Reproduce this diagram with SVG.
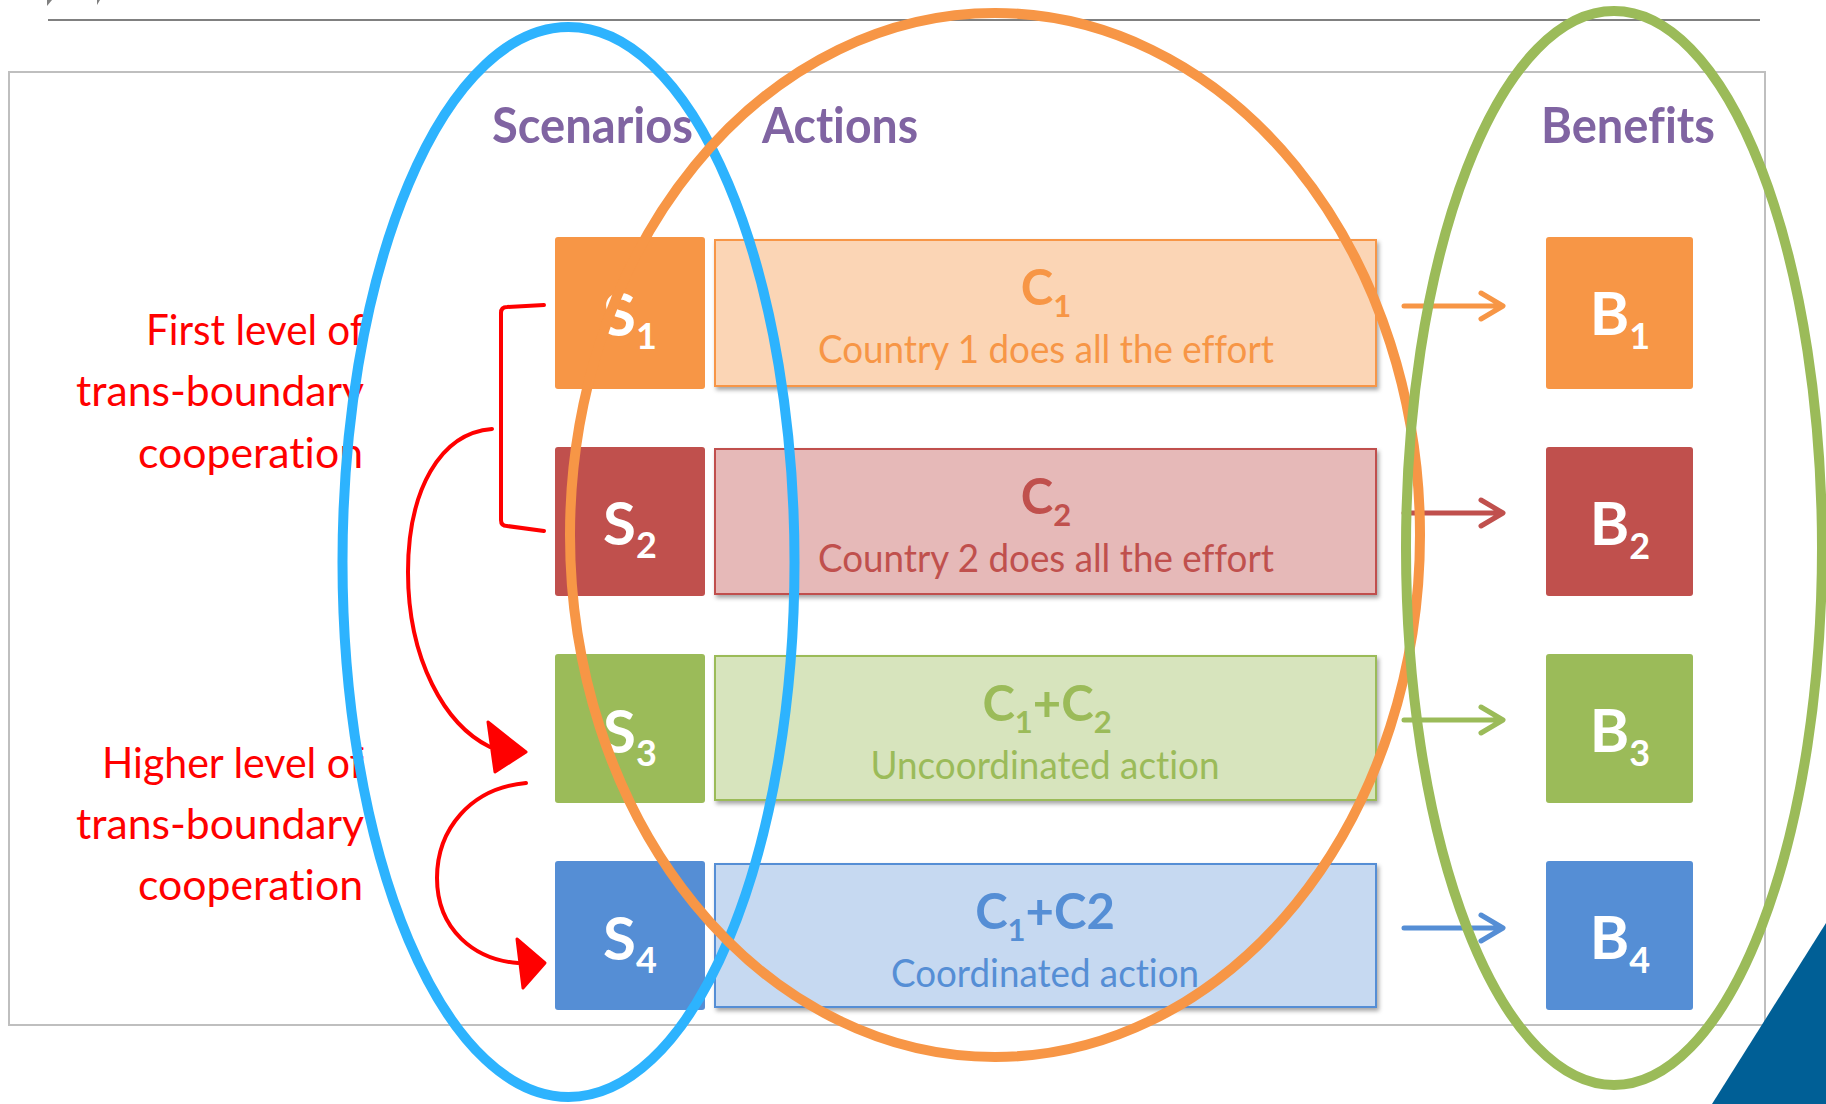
<svg xmlns="http://www.w3.org/2000/svg" width="1826" height="1104" viewBox="0 0 1826 1104">
  <defs>
    <filter id="shadow" x="-5%" y="-10%" width="112%" height="130%">
      <feDropShadow dx="2" dy="3" stdDeviation="2" flood-color="#000" flood-opacity="0.35"/>
    </filter>
  </defs>
  <style>
    text { font-family: Lato, "Liberation Sans", sans-serif; font-variant-ligatures: none; font-feature-settings: "liga" 0, "dlig" 0; }
    .head { font-size: 50px; font-weight: bold; fill: #8064A2; }
    .lbl { font-size: 60px; font-weight: bold; fill: #FFFFFF; text-anchor: middle; }
    .sub { font-size: 36px; }
    .ctitle { font-size: 49px; font-weight: bold; text-anchor: middle; }
    .csub { font-size: 31px; }
    .cdesc { font-size: 38px; text-anchor: middle; }
    .side { font-size: 42px; fill: #FF0000; text-anchor: end; }
    .sq { rx: 3; ry: 3; }
    .cbox { stroke-width: 2; filter: url(#shadow); }
    .arrow { fill: none; stroke-width: 5; stroke-linecap: round; stroke-linejoin: round; }
    .red { fill: none; stroke: #FF0000; stroke-width: 4; stroke-linecap: round; stroke-linejoin: round; }
    .head-red { fill: #FF0000; stroke: #FF0000; stroke-width: 3; stroke-linejoin: round; }
    .ring { fill: none; stroke-width: 10; }
    .orange { fill: #F79646; } .redc { fill: #C0504D; } .green { fill: #9BBB59; } .blue { fill: #558ED5; }
  </style>

  <rect width="1826" height="1104" fill="#FFFFFF"/>

  <!-- header rule and clipped title tails -->
  <g id="header">
    <line x1="48" y1="20" x2="1760" y2="20" stroke="#808080" stroke-width="2"/>
    <polygon points="47,0 52,0 47,6" fill="#808080"/>
    <polygon points="97,0 100,0 97,5" fill="#808080"/>
  </g>

  <!-- content frame -->
  <rect id="frame" x="9" y="72" width="1756" height="953" fill="none" stroke="#BFBFBF" stroke-width="2"/>

  <!-- column headings -->
  <g id="headings">
    <text class="head" x="492" y="143" textLength="201" lengthAdjust="spacingAndGlyphs">Scenarios</text>
    <text class="head" x="762" y="143" textLength="156" lengthAdjust="spacingAndGlyphs">Actions</text>
    <text class="head" x="1541" y="143" textLength="174" lengthAdjust="spacingAndGlyphs">Benefits</text>
  </g>

  <!-- side labels -->
  <g id="label-first">
    <text class="side" x="364" y="345" textLength="218" lengthAdjust="spacingAndGlyphs">First level of</text>
    <text class="side" x="364" y="406" textLength="288" lengthAdjust="spacingAndGlyphs">trans-boundary</text>
    <text class="side" x="363" y="468" textLength="225" lengthAdjust="spacingAndGlyphs">cooperation</text>
  </g>
  <g id="label-higher">
    <text class="side" x="364" y="778" textLength="262" lengthAdjust="spacingAndGlyphs">Higher level of</text>
    <text class="side" x="364" y="839" textLength="288" lengthAdjust="spacingAndGlyphs">trans-boundary</text>
    <text class="side" x="363" y="900" textLength="225" lengthAdjust="spacingAndGlyphs">cooperation</text>
  </g>

  <!-- scenario squares -->
  <g id="S1"><rect class="sq orange" x="555" y="237" width="150" height="152"/>
    <text class="lbl" x="630" y="336">S<tspan class="sub" dy="13">1</tspan></text></g>
  <g id="S2"><rect class="sq redc" x="555" y="447" width="150" height="149"/>
    <text class="lbl" x="630" y="545">S<tspan class="sub" dy="13">2</tspan></text></g>
  <g id="S3"><rect class="sq green" x="555" y="654" width="150" height="149"/>
    <text class="lbl" x="630" y="753">S<tspan class="sub" dy="13">3</tspan></text></g>
  <g id="S4"><rect class="sq blue" x="555" y="861" width="150" height="149"/>
    <text class="lbl" x="630" y="960">S<tspan class="sub" dy="13">4</tspan></text></g>

  <!-- action bars -->
  <g id="C1">
    <rect class="cbox" x="715" y="240" width="661" height="146" fill="#FBD5B5" stroke="#F79646"/>
    <text class="ctitle" x="1046" y="305" fill="#F79646">C<tspan class="csub" dy="12">1</tspan></text>
    <text class="cdesc" x="1046" y="363" fill="#F79646" textLength="456" lengthAdjust="spacingAndGlyphs">Country 1 does all the effort</text>
  </g>
  <g id="C2">
    <rect class="cbox" x="715" y="449" width="661" height="145" fill="#E6B9B8" stroke="#C0504D"/>
    <text class="ctitle" x="1046" y="514" fill="#C0504D">C<tspan class="csub" dy="12">2</tspan></text>
    <text class="cdesc" x="1046" y="572" fill="#C0504D" textLength="456" lengthAdjust="spacingAndGlyphs">Country 2 does all the effort</text>
  </g>
  <g id="C3">
    <rect class="cbox" x="715" y="656" width="661" height="144" fill="#D7E4BD" stroke="#9BBB59"/>
    <text class="ctitle" x="1047" y="721" fill="#9BBB59">C<tspan class="csub" dy="12">1</tspan><tspan dy="-12">+C</tspan><tspan class="csub" dy="12">2</tspan></text>
    <text class="cdesc" x="1045" y="779" fill="#9BBB59" textLength="349" lengthAdjust="spacingAndGlyphs">Uncoordinated action</text>
  </g>
  <g id="C4">
    <rect class="cbox" x="715" y="864" width="661" height="143" fill="#C6D9F1" stroke="#558ED5"/>
    <text class="ctitle" x="1045" y="929" fill="#558ED5">C<tspan class="csub" dy="12">1</tspan><tspan dy="-12">+C2</tspan></text>
    <text class="cdesc" x="1045" y="987" fill="#558ED5" textLength="308" lengthAdjust="spacingAndGlyphs">Coordinated action</text>
  </g>

  <!-- benefit squares -->
  <g id="B1"><rect class="sq orange" x="1546" y="237" width="147" height="152"/>
    <text class="lbl" x="1620" y="335">B<tspan class="sub" dy="14">1</tspan></text></g>
  <g id="B2"><rect class="sq redc" x="1546" y="447" width="147" height="149"/>
    <text class="lbl" x="1620" y="545">B<tspan class="sub" dy="14">2</tspan></text></g>
  <g id="B3"><rect class="sq green" x="1546" y="654" width="147" height="149"/>
    <text class="lbl" x="1620" y="752">B<tspan class="sub" dy="14">3</tspan></text></g>
  <g id="B4"><rect class="sq blue" x="1546" y="861" width="147" height="149"/>
    <text class="lbl" x="1620" y="959">B<tspan class="sub" dy="14">4</tspan></text></g>

  <!-- corner accent -->
  <polygon id="corner" points="1826,923 1712,1104 1826,1104" fill="#005F96"/>

  <!-- connectors -->
  <g id="connectors">
    <path class="arrow" stroke="#F79646" d="M1404,306 H1502 M1481,293 L1503,306 L1481,319"/>
    <path class="arrow" stroke="#C0504D" d="M1404,513 H1502 M1481,500 L1503,513 L1481,526"/>
    <path class="arrow" stroke="#9BBB59" d="M1404,720 H1502 M1481,707 L1503,720 L1481,733"/>
    <path class="arrow" stroke="#558ED5" d="M1404,928 H1502 M1481,915 L1503,928 L1481,941"/>

    <path class="red" d="M544,305 L507,307 Q501,307 501,313 L501,520 Q501,526 507,526 L544,531"/>
    <path class="red" d="M492,429 C440,433 408,490 408,572 C408,660 445,725 490,747"/>
    <polygon class="head-red" points="488,722 526,752 495,772"/>
    <path class="red" d="M526,783 C470,788 437,830 437,878 C437,930 475,960 518,963"/>
    <polygon class="head-red" points="517,939 545,963 523,988"/>
  </g>

  <!-- grouping rings -->
  <g id="rings">
    <ellipse class="ring" cx="568.5" cy="562" rx="226" ry="535" stroke="#2DB3FE"/>
    <ellipse class="ring" cx="995" cy="535" rx="425" ry="522" stroke="#F79646"/>
    <ellipse class="ring" cx="1614" cy="548" rx="208" ry="537" stroke="#9BBB59"/>
  </g>
</svg>
